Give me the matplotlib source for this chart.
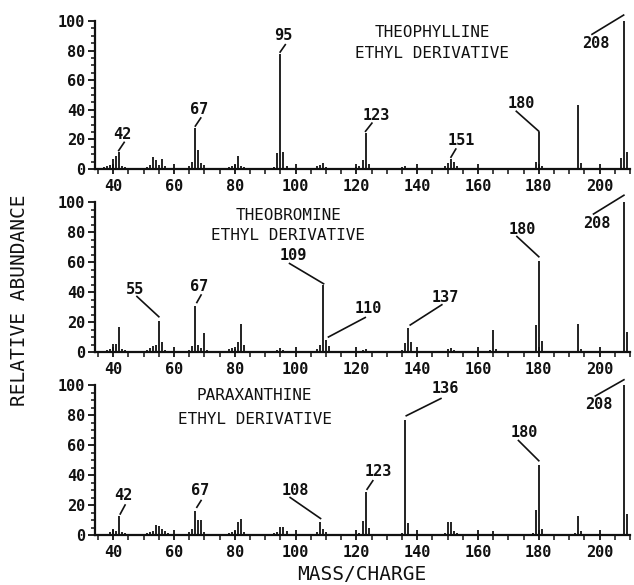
import matplotlib
matplotlib.use("Agg")
import matplotlib.pyplot as plt
from matplotlib.ticker import MultipleLocator

# ---------------- data ----------------
theo_mz = [35, 36, 37, 38, 39, 40, 41, 42, 43, 44, 45, 50, 51, 52, 53, 54, 55, 56, 57, 58,
           63, 64, 65, 66, 67, 68, 69, 70, 71, 74, 77, 78, 79, 80, 81, 82, 83, 84, 88, 91,
           93, 94, 95, 96, 97, 98, 101, 105, 106, 107, 108, 109, 110, 113, 117, 119, 120,
           121, 122, 123, 124, 125, 130, 134, 135, 136, 137, 140, 144, 147, 149, 150, 151,
           152, 153, 158, 162, 165, 170, 175, 178, 179, 180, 181, 185, 190, 193, 194, 195,
           200, 204, 207, 208, 209]
theo_ab = [1, 1, 1.5, 2, 3, 7, 9, 11.5, 2, 1.5, 1, 1, 1.5, 2.5, 8, 6, 3, 7, 2, 1,
           1, 1, 2, 4.5, 27.5, 13, 4, 2.5, 1, 0.8, 1, 1.5, 2, 2.5, 8.5, 2, 1.5, 1, 0.8, 0.8,
           1.5, 11, 77.5, 11.5, 2, 1, 0.8, 0.8, 1, 2, 3, 4, 1.5, 0.8, 0.8, 1, 1.5,
           2, 6, 24, 3.5, 1, 0.8, 1, 1.5, 2, 1, 0.8, 0.8, 1, 2, 4, 6.5,
           5, 2, 0.8, 0.8, 1, 0.8, 0.8, 1, 4.5, 25, 2, 0.8, 0.8, 43, 4, 1,
           0.8, 0.8, 7.5, 100, 11.7]

brom_mz = [35, 36, 38, 39, 40, 41, 42, 43, 44, 47, 50, 51, 52, 53, 54, 55, 56, 57, 60, 64,
           65, 66, 67, 68, 69, 70, 71, 74, 77, 78, 79, 80, 81, 82, 83, 84, 88, 91, 94, 95,
           96, 97, 101, 104, 107, 108, 109, 110, 111, 112, 116, 119, 122, 123, 124, 128,
           132, 135, 136, 137, 138, 139, 144, 149, 150, 151, 152, 156, 160, 164, 165, 166,
           170, 175, 178, 179, 180, 181, 182, 186, 190, 193, 194, 195, 200, 204, 207, 208,
           209]
brom_ab = [1, 1, 1.5, 2, 5.5, 5.5, 16.5, 2, 1.5, 0.8, 1, 1.5, 3, 4, 5, 21, 6.5, 1.5, 0.8, 1,
           1.5, 4, 30.5, 5, 3, 13, 1.5, 0.8, 1, 2, 3, 2, 7, 18.5, 4.5, 1, 0.8, 0.8, 1.5, 2.5,
           1.5, 1, 0.8, 0.8, 2, 5, 45, 8, 4, 1, 0.8, 1, 1.5, 2, 1, 0.8,
           0.8, 1.5, 6, 16, 7, 1, 0.8, 1, 2, 2.5, 1.5, 0.8, 0.8, 1.5, 14.7, 2,
           0.8, 0.8, 1, 18, 61, 7.5, 1, 0.8, 0.8, 18.4, 2, 1, 0.8, 0.8, 1, 100,
           13.5]

para_mz = [35, 36, 38, 39, 40, 41, 42, 43, 44, 47, 51, 52, 53, 54, 55, 56, 57, 58, 61, 64,
           65, 66, 67, 68, 69, 70, 71, 74, 78, 79, 80, 81, 82, 83, 86, 90, 93, 94, 95, 96,
           97, 98, 102, 105, 107, 108, 109, 110, 114, 118, 121, 122, 123, 124, 125, 129,
           133, 135, 136, 137, 138, 143, 149, 150, 151, 152, 153, 158, 162, 165, 170, 174,
           178, 179, 180, 181, 182, 187, 192, 193, 194, 195, 200, 204, 208, 209]
para_ab = [1, 1, 1, 2, 4, 3, 13, 2, 1.5, 0.8, 1.5, 2, 3, 7, 6, 4, 3, 1.5, 0.8, 1,
           2, 4, 16, 10, 10, 2, 1, 0.8, 1.5, 2, 3, 9, 10.5, 2, 0.8, 0.8, 1.5, 2, 5.5, 5.5,
           3, 1, 0.8, 0.8, 2, 9, 4, 2, 0.8, 0.8, 1.5, 9.5, 29, 4.5, 1, 0.8,
           0.8, 1.5, 77, 8, 1, 0.8, 1.5, 9, 9, 3, 1.5, 0.8, 0.8, 2.5, 0.8, 0.8,
           1.5, 17, 47, 4, 1, 0.8, 1.5, 13, 3, 1, 0.8, 0.8, 100, 14]

compound_names = ["THEOPHYLLINE", "THEOBROMINE", "PARAXANTHINE"]
subtitle = "ETHYL DERIVATIVE"

theo_labels = [42, 67, 95, 123, 151, 180, 208]
brom_labels = [55, 67, 109, 110, 137, 180, 208]
para_labels = [42, 67, 108, 123, 136, 180, 208]

x_ticks = [40, 60, 80, 100, 120, 140, 160, 180, 200]
y_ticks = [0, 20, 40, 60, 80, 100]

# ---------------- layout / style ----------------
# label text centre (x, y) and leader line (x0, y0, x1, y1) in data units
theo_layout = [((43.0, 23.5), (41.8, 12.5, 43.6, 18.0)),
               ((68.2, 40.5), (67.0, 29.0, 68.8, 34.5)),
               ((95.8, 90.5), (94.9, 79.0, 96.6, 84.0)),
               ((126.4, 36.0), (123.0, 25.5, 125.1, 31.0)),
               ((154.4, 19.5), (151.1, 8.0, 152.7, 13.5)),
               ((174.1, 44.0), (172.6, 39.0, 180.0, 25.5)),
               ((198.9, 85.0), (197.5, 91.0, 207.9, 104.0))]
brom_layout = [((47.2, 42.0), (47.8, 37.0, 55.0, 23.5)),
               ((68.4, 43.5), (67.5, 33.0, 68.9, 38.0)),
               ((99.1, 64.0), (98.0, 59.0, 109.2, 45.5)),
               ((124.0, 29.0), (110.8, 10.0, 122.9, 23.0)),
               ((149.2, 36.5), (137.7, 18.0, 148.1, 31.5)),
               ((174.7, 82.0), (172.8, 77.0, 180.0, 63.5)),
               ((199.1, 86.0), (198.0, 92.0, 208.0, 104.5))]
para_layout = [((43.4, 26.0), (42.3, 14.0, 43.9, 20.0)),
               ((68.6, 29.5), (67.5, 18.5, 68.9, 23.0)),
               ((99.9, 29.5), (98.2, 25.0, 108.2, 11.0)),
               ((127.1, 42.0), (123.5, 30.5, 125.4, 36.2)),
               ((149.2, 97.5), (136.4, 79.5, 147.8, 91.0)),
               ((175.3, 68.5), (173.3, 63.0, 180.0, 49.5)),
               ((199.7, 87.0), (198.6, 92.7, 208.0, 103.5))]
title_pos = [(145.0, 92.0, 78.0), (97.6, 91.3, 78.0), (86.5, 92.7, 77.0)]

panel_rects = [[95 / 634, 1 - 169 / 585, 535 / 634, 148 / 585],
               [95 / 634, 1 - 352 / 585, 535 / 634, 150 / 585],
               [95 / 634, 1 - 535 / 585, 535 / 634, 150 / 585]]

MONO = "DejaVu Sans Mono"
INK = "#111111"

fig = plt.figure(figsize=(6.34, 5.85), dpi=100)
fig.patch.set_facecolor("white")

panels = [(theo_mz, theo_ab, theo_labels, theo_layout),
          (brom_mz, brom_ab, brom_labels, brom_layout),
          (para_mz, para_ab, para_labels, para_layout)]

for i, (mz, ab, labs, lay) in enumerate(panels):
    ax = fig.add_axes(panel_rects[i])
    ax.vlines(mz, 0, ab, colors=INK, linewidth=1.3, clip_on=False)
    ax.set_xlim(34, 210)
    ax.set_ylim(0, 100)
    for s in ["top", "right"]:
        ax.spines[s].set_visible(False)
    for s in ["left", "bottom"]:
        ax.spines[s].set_linewidth(1.6)
        ax.spines[s].set_color(INK)
    ax.set_xticks(x_ticks)
    ax.set_yticks(y_ticks)
    ax.xaxis.set_minor_locator(MultipleLocator(5))
    ax.yaxis.set_minor_locator(MultipleLocator(5))
    ax.tick_params(axis="x", which="major", direction="inout", length=7, width=1.3,
                   pad=4, labelsize=11, colors=INK)
    ax.tick_params(axis="x", which="minor", direction="out", length=3.5, width=1.1, colors=INK)
    ax.tick_params(axis="y", which="major", direction="out", length=5, width=1.3,
                   pad=2, labelsize=11, colors=INK)
    ax.tick_params(axis="y", which="minor", direction="out", length=3, width=1.1, colors=INK)
    for lab in ax.get_xticklabels() + ax.get_yticklabels():
        lab.set_fontfamily(MONO)
        lab.set_fontweight("bold")

    for m, ((tx, ty), (x0, y0, x1, y1)) in zip(labs, lay):
        ax.plot([x0, x1], [y0, y1], color=INK, linewidth=1.2, clip_on=False)
        ax.text(tx, ty, str(m), ha="center", va="center", fontsize=11,
                fontfamily=MONO, fontweight="bold", color=INK)

    cx, y_name, y_sub = title_pos[i]
    ax.text(cx, y_name, compound_names[i], ha="center", va="center", fontsize=11.5,
            fontfamily=MONO, color=INK)
    ax.text(cx, y_sub, subtitle, ha="center", va="center", fontsize=11.5,
            fontfamily=MONO, color=INK)

fig.text(20 / 634, 1 - 300 / 585, "RELATIVE ABUNDANCE", rotation=90, ha="center",
         va="center", fontsize=14, fontfamily=MONO, color=INK)
fig.text(362 / 634, 1 - 575 / 585, "MASS/CHARGE", ha="center", va="center",
         fontsize=14, fontfamily=MONO, color=INK)

fig.savefig("out.png", dpi=100, facecolor="white")
